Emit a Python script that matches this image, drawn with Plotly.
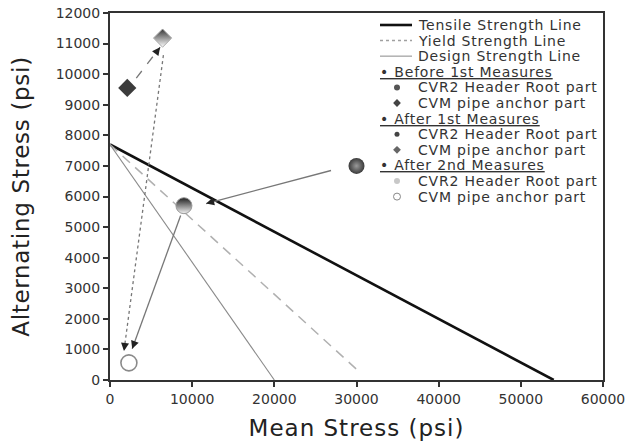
import math
import plotly.graph_objects as go

# ---------------- data ----------------
tensile_x = [0, 54000]
tensile_y = [7700, 0]
yield_x = [0, 30500]
yield_y = [7700, 230]
design_x = [0, 20000]
design_y = [7700, 0]

parts = ["CVR2 Header Root part", "CVM pipe anchor part"]
stages = ["Before 1st Measures", "After 1st Measures", "After 2nd Measures"]
before_x = [30000, 2100]
before_y = [7000, 9550]
after1_x = [9000, 6400]
after1_y = [5700, 11180]
after2_x = [2300, 2300]
after2_y = [560, 560]

arrow_x0 = [26900, 3200, 6500, 8600]
arrow_y0 = [6850, 9870, 10620, 5380]
arrow_x1 = [11700, 6100, 1700, 2700]
arrow_y1 = [5770, 10880, 950, 1020]
arrow_dash = ["solid", "dash", "dot", "solid"]

x_range = [0, 60000]
y_range = [0, 12000]
x_dtick = 10000
y_dtick = 1000

# ---------------- layout constants (page pixels; body margin removed) ----------------
W, H = 642, 441
L, R, T, B = 110, 603, 13, 380
FONT = "DejaVu Sans"


def spaced(text, sp):
    return '<span style="letter-spacing:%spx">%s</span>' % (sp, text)


fig = go.Figure()

# strength lines
fig.add_trace(go.Scatter(x=tensile_x, y=tensile_y, mode="lines",
                         line=dict(color="#111", width=2.6), showlegend=False))
fig.add_trace(go.Scatter(x=yield_x, y=yield_y, mode="lines",
                         line=dict(color="#b0b0b0", width=1.5, dash="10px,7px"), showlegend=False))
fig.add_trace(go.Scatter(x=design_x, y=design_y, mode="lines",
                         line=dict(color="#8a8a8a", width=1.1), showlegend=False))

# arrows (lines)
px_x = (R - L) / (x_range[1] - x_range[0])
px_y = (B - T) / (y_range[1] - y_range[0])
annotations = []
for x0, y0, x1, y1, d in zip(arrow_x0, arrow_y0, arrow_x1, arrow_y1, arrow_dash):
    fig.add_trace(go.Scatter(x=[x0, x1], y=[y0, y1], mode="lines",
                             line=dict(color="#777", width=1.3, dash=d), showlegend=False))
    dxp = (x0 - x1) * px_x
    dyp = -(y0 - y1) * px_y
    n = math.hypot(dxp, dyp)
    annotations.append(dict(x=x1, y=y1, xref="x", yref="y", ax=dxp / n * 8, ay=dyp / n * 8,
                            showarrow=True, arrowhead=2, arrowsize=1.0, arrowwidth=1.6,
                            arrowcolor="#222", text=""))

# data markers
styles = {
    ("before", 0): dict(symbol="circle", size=16, color="#3a3a3a",
                        gradient=dict(type="radial", color="#9a9a9a"), line=dict(width=0)),
    ("before", 1): dict(symbol="diamond", size=14, color="#3c3c3c", line=dict(width=0)),
    ("after1", 0): dict(symbol="circle", size=16, color="#1e1e1e",
                        gradient=dict(type="vertical", color="#f2f2f2"), line=dict(width=1, color="#999")),
    ("after1", 1): dict(symbol="diamond", size=14, color="#333",
                        gradient=dict(type="vertical", color="#ffffff"), line=dict(width=1, color="#aaa")),
    ("after2", 0): dict(symbol="circle", size=15, color="#d8d8d8", line=dict(width=1, color="#aaa")),
    ("after2", 1): dict(symbol="circle", size=16, color="#ffffff", line=dict(width=1.6, color="#8a8a8a")),
}
for key, xs, ys in [("before", before_x, before_y), ("after1", after1_x, after1_y),
                    ("after2", after2_x, after2_y)]:
    for i in range(len(parts)):
        fig.add_trace(go.Scatter(x=[xs[i]], y=[ys[i]], mode="markers", name=parts[i],
                                 marker=styles[(key, i)], showlegend=False))

# ---------------- manual legend (pixel overlay axes) ----------------
row0, step = 25, 15.6
LEG_FONT = dict(family=FONT, size=14, color="#333")
LEG_SP = 0.8
line_labels = ["Tensile Strength Line", "Yield Strength Line", "Design Strength Line"]
line_styles = [dict(color="#111", width=2.6), dict(color="#a0a0a0", width=1.5, dash="dot"),
               dict(color="#b5b5b5", width=1.6)]
shapes = []
row = 0
for lab, st in zip(line_labels, line_styles):
    yy = row0 + row * step
    shapes.append(dict(type="line", xref="x2", yref="y2", x0=380, x1=412, y0=yy, y1=yy, line=st))
    annotations.append(dict(x=416, y=yy, xref="x2", yref="y2", text=spaced(lab, LEG_SP),
                            showarrow=False, xanchor="left", yanchor="middle", font=LEG_FONT))
    row += 1

leg_marker = {
    ("before", 0): dict(symbol="circle", size=6, color="#555"),
    ("before", 1): dict(symbol="diamond", size=6, color="#444"),
    ("after1", 0): dict(symbol="circle", size=5, color="#444"),
    ("after1", 1): dict(symbol="diamond", size=6, color="#666"),
    ("after2", 0): dict(symbol="circle", size=6, color="#c8c8c8"),
    ("after2", 1): dict(symbol="circle", size=7, color="#fff", line=dict(width=1, color="#888")),
}
for key, stage in zip(["before", "after1", "after2"], stages):
    yy = row0 + row * step
    annotations.append(dict(x=378, y=yy, xref="x2", yref="y2",
                            text="<u>" + spaced("• " + stage, LEG_SP) + "</u>",
                            showarrow=False, xanchor="left", yanchor="middle", font=LEG_FONT))
    row += 1
    for i, p in enumerate(parts):
        yy = row0 + row * step
        fig.add_trace(go.Scatter(x=[397], y=[yy], xaxis="x2", yaxis="y2", mode="markers",
                                 marker=leg_marker[(key, i)], showlegend=False, hoverinfo="skip"))
        annotations.append(dict(x=416, y=yy, xref="x2", yref="y2", text=spaced(p, LEG_SP),
                                showarrow=False, xanchor="left", yanchor="middle", font=LEG_FONT))
        row += 1

axis_common = dict(showgrid=False, zeroline=False, showline=True, linecolor="#333", linewidth=2,
                   mirror=True, ticks="outside", ticklen=5, tickwidth=1.5, tickcolor="#333",
                   automargin=False, tickformat="d", ticklabeloverflow="allow",
                   tickfont=dict(family=FONT, size=14, color="#333"))

fig.update_layout(
    width=W, height=H,
    margin=dict(l=L, r=W - R, t=T, b=H - B, autoexpand=False),
    paper_bgcolor="white", plot_bgcolor="white",
    showlegend=False,
    xaxis=dict(range=x_range, dtick=x_dtick, tick0=0,
               title=dict(text=spaced("Mean Stress (psi)", 1), standoff=17,
                          font=dict(family=FONT, size=23, color="#222")), **axis_common),
    yaxis=dict(range=y_range, dtick=y_dtick, tick0=0,
               title=dict(text=spaced("Alternating Stress (psi)", 0.7), standoff=20,
                          font=dict(family=FONT, size=23, color="#222")), **axis_common),
    xaxis2=dict(overlaying="x", range=[L, R], visible=False, fixedrange=True),
    yaxis2=dict(overlaying="y", range=[B, T], visible=False, fixedrange=True),
    shapes=shapes,
    annotations=annotations,
)

fig.write_html("out.html", config={"displayModeBar": False},
               post_script="document.body.style.margin='0';")
